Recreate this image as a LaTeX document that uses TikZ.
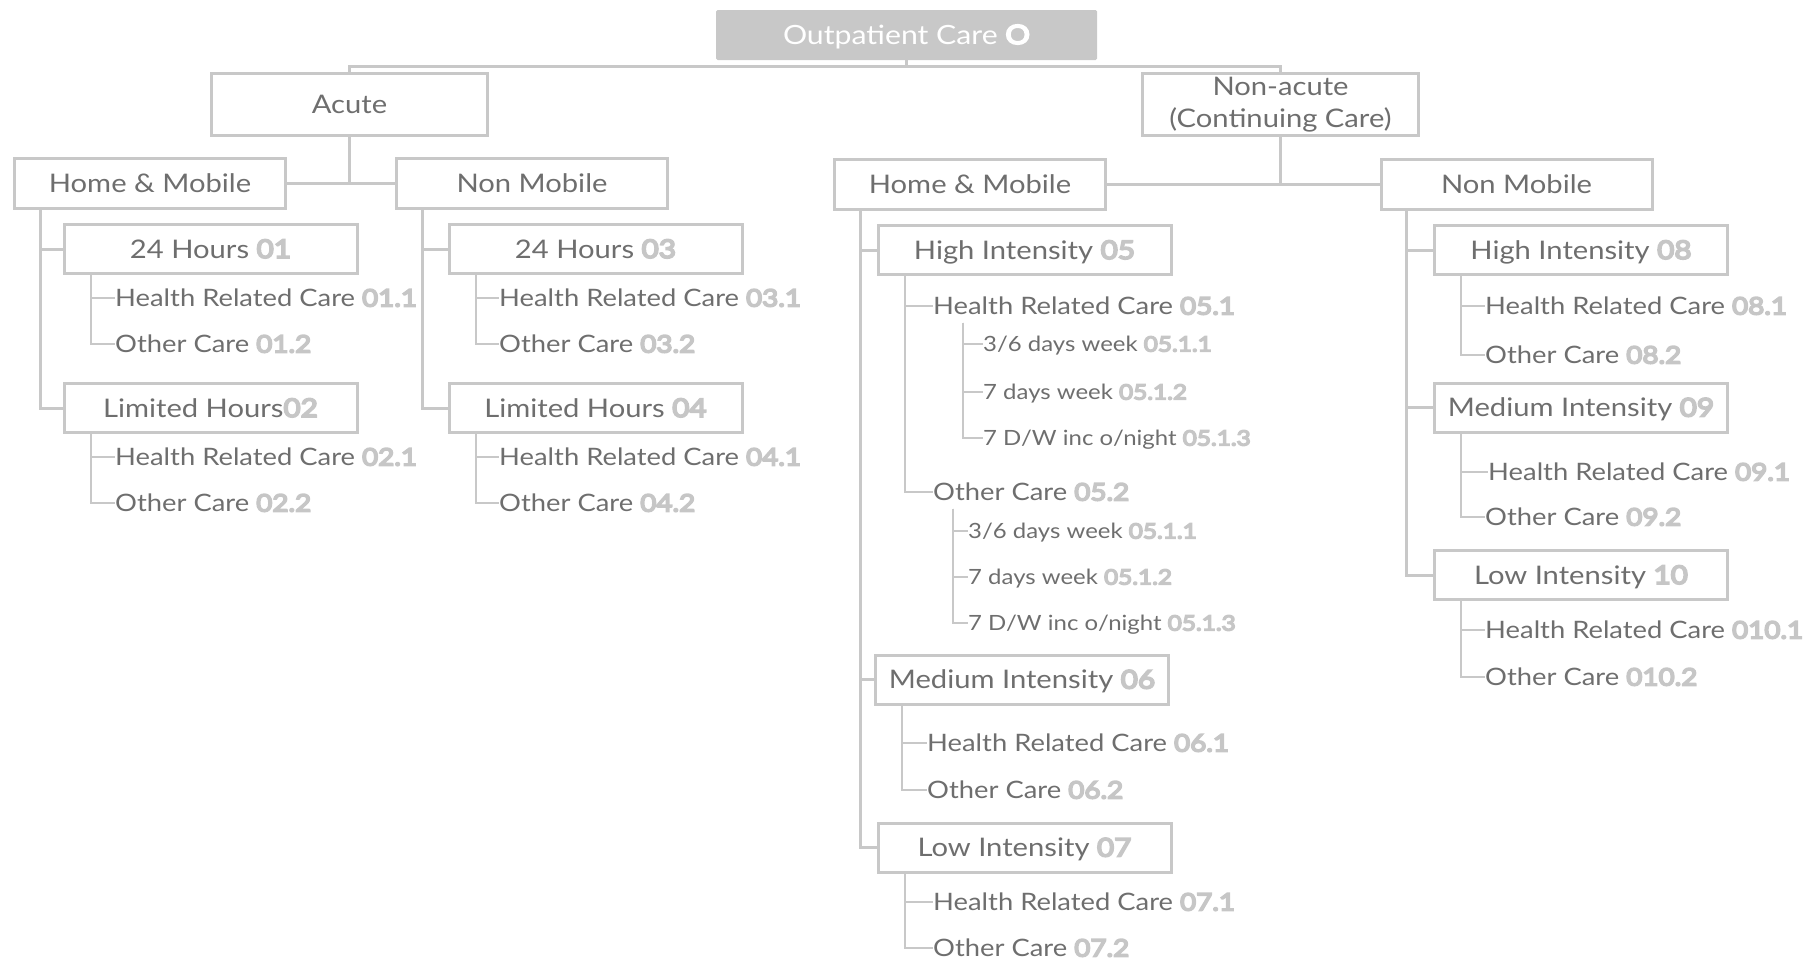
\documentclass[tikz,border=0pt]{standalone}
\usepackage{fontspec}
\setmainfont{Lato}[FakeStretch=1.14]
\newfontfamily\codefont{Lato}[FakeStretch=1.16,FakeBold=7]
\usetikzlibrary{positioning}

\definecolor{linegray}{HTML}{C8C8C8}
\definecolor{textgray}{HTML}{6E6E6E}
\definecolor{codegray}{HTML}{C6C6C6}
\newcommand{\code}[1]{{\codefont\color{codegray}#1}}

\begin{document}
\begin{tikzpicture}[x=1pt,y=-1pt,
  box/.style={draw=linegray,line width=3pt,minimum width=271pt,
    minimum height=50pt,inner sep=0pt,text=textgray,
    font=\fontsize{25.6}{32}\selectfont,text height=18pt,text depth=0pt},
  subbox/.style={box,minimum width=293pt,minimum height=49pt},
  topbox/.style={box,minimum width=276pt,minimum height=62pt},
  rootbox/.style={fill=linegray,rounded corners=1.5pt,minimum width=381pt,
    minimum height=50pt,inner sep=0pt,text=white,
    font=\fontsize{26.5}{30}\selectfont,text height=18pt,text depth=0pt},
  leaf/.style={anchor=west,inner sep=0pt,text=textgray,
    font=\fontsize{24}{28}\selectfont,text height=17pt,text depth=0pt},
  small/.style={leaf,font=\fontsize{21}{24}\selectfont,text height=15pt},
  link/.style={draw=linegray,line width=3pt},
  twig/.style={draw=linegray,line width=2pt}]
\useasboundingbox (0,0) rectangle (1813,961);

%% top levels
\node[rootbox] (oc) at (906.5,35) {Outpatient Care \code{\color{white}O}};
\node[topbox]  (ac) at (349.5,104.5) {Acute};
\node[topbox,align=center,text height={},text depth={}] (na) at (1280.5,104.5)
  {Non-acute\\(Continuing Care)};

\node[box] (hm1) at (150,183.5) {Home \& Mobile};
\node[box] (nm1) at (532,183.5) {Non Mobile};
\node[box] (hm2) at (970,184.5) {Home \& Mobile};
\node[box] (nm2) at (1516.5,184.5) {Non Mobile};

%% hours / intensity
\node[subbox] (h01) at (210.5,249) {24 Hours \code{01}};
\node[subbox] (h02) at (210.5,408) {Limited Hours\code{02}};
\node[subbox] (h03) at (595.5,249) {24 Hours \code{03}};
\node[subbox] (h04) at (595.5,408) {Limited Hours \code{04}};
\node[subbox] (i05) at (1024.5,250) {High Intensity \code{05}};
\node[subbox] (i06) at (1022,679.5) {Medium Intensity \code{06}};
\node[subbox] (i07) at (1024.5,847.5) {Low Intensity \code{07}};
\node[subbox] (i08) at (1581,250) {High Intensity \code{08}};
\node[subbox] (i09) at (1581,407.5) {Medium Intensity \code{09}};
\node[subbox] (i10) at (1581,575) {Low Intensity \code{10}};

%% care types
\node[leaf] (c011) at (115,298) {Health Related Care \code{01.1}};
\node[leaf] (c012) at (115,344) {Other Care \code{01.2}};
\node[leaf] (c021) at (115,457) {Health Related Care \code{02.1}};
\node[leaf] (c022) at (115,503) {Other Care \code{02.2}};
\node[leaf] (c031) at (499,298) {Health Related Care \code{03.1}};
\node[leaf] (c032) at (499,344) {Other Care \code{03.2}};
\node[leaf] (c041) at (499,457) {Health Related Care \code{04.1}};
\node[leaf] (c042) at (499,503) {Other Care \code{04.2}};

\node[leaf]  (c051)  at (933,306) {Health Related Care \code{05.1}};
\node[small] (c0511) at (983,344) {3/6 days week \code{05.1.1}};
\node[small] (c0512) at (983,392) {7 days week \code{05.1.2}};
\node[small] (c0513) at (983,438) {7 D/W inc o/night \code{05.1.3}};
\node[leaf]  (c052)  at (933,492) {Other Care \code{05.2}};
\node[small] (c0521) at (968,531) {3/6 days week \code{05.1.1}};
\node[small] (c0522) at (968,577) {7 days week \code{05.1.2}};
\node[small] (c0523) at (968,623) {7 D/W inc o/night \code{05.1.3}};
\node[leaf] (c061) at (927,743) {Health Related Care \code{06.1}};
\node[leaf] (c062) at (927,790) {Other Care \code{06.2}};
\node[leaf] (c071) at (933,902) {Health Related Care \code{07.1}};
\node[leaf] (c072) at (933,948) {Other Care \code{07.2}};

\node[leaf] (c081) at (1485,306) {Health Related Care \code{08.1}};
\node[leaf] (c082) at (1485,355) {Other Care \code{08.2}};
\node[leaf] (c091) at (1488,472) {Health Related Care \code{09.1}};
\node[leaf] (c092) at (1485,517) {Other Care \code{09.2}};
\node[leaf] (c101) at (1485,630) {Health Related Care \code{010.1}};
\node[leaf] (c102) at (1485,677) {Other Care \code{010.2}};

%% connectors
\draw[link] (oc.south) -- ++(0,6) -| (ac.north);
\draw[link] (oc.south) -- ++(0,6) -| (na.north);
\draw[link] (ac.south) |- (hm1.east);
\draw[link] (ac.south) |- (nm1.west);
\draw[link] (na.south) |- (hm2.east);
\draw[link] (na.south) |- (nm2.west);

\draw[link] ([xshift=27pt]hm1.south west) |- (h01.west);
\draw[link] ([xshift=27pt]hm1.south west) |- (h02.west);
\draw[link] ([xshift=27pt]nm1.south west) |- (h03.west);
\draw[link] ([xshift=27pt]nm1.south west) |- (h04.west);
\draw[link] ([xshift=27pt]hm2.south west) |- (i05.west);
\draw[link] ([xshift=27pt]hm2.south west) |- (i06.west);
\draw[link] ([xshift=27pt]hm2.south west) |- (i07.west);
\draw[link] ([xshift=27pt]nm2.south west) |- (i08.west);
\draw[link] ([xshift=27pt]nm2.south west) |- (i09.west);
\draw[link] ([xshift=27pt]nm2.south west) |- (i10.west);

\draw[twig] ([xshift=28pt]h01.south west) |- (c011.west);
\draw[twig] ([xshift=28pt]h01.south west) |- (c012.west);
\draw[twig] ([xshift=28pt]h02.south west) |- (c021.west);
\draw[twig] ([xshift=28pt]h02.south west) |- (c022.west);
\draw[twig] ([xshift=28pt]h03.south west) |- (c031.west);
\draw[twig] ([xshift=28pt]h03.south west) |- (c032.west);
\draw[twig] ([xshift=28pt]h04.south west) |- (c041.west);
\draw[twig] ([xshift=28pt]h04.south west) |- (c042.west);
\draw[twig] ([xshift=28pt]i05.south west) |- (c051.west);
\draw[twig] ([xshift=28pt]i05.south west) |- (c052.west);
\draw[twig] ([shift={(30,8)}]c051.south west) |- (c0511.west);
\draw[twig] ([shift={(30,8)}]c051.south west) |- (c0512.west);
\draw[twig] ([shift={(30,8)}]c051.south west) |- (c0513.west);
\draw[twig] ([shift={(20,8)}]c052.south west) |- (c0521.west);
\draw[twig] ([shift={(20,8)}]c052.south west) |- (c0522.west);
\draw[twig] ([shift={(20,8)}]c052.south west) |- (c0523.west);
\draw[twig] ([xshift=28pt]i06.south west) |- (c061.west);
\draw[twig] ([xshift=28pt]i06.south west) |- (c062.west);
\draw[twig] ([xshift=28pt]i07.south west) |- (c071.west);
\draw[twig] ([xshift=28pt]i07.south west) |- (c072.west);
\draw[twig] ([xshift=28pt]i08.south west) |- (c081.west);
\draw[twig] ([xshift=28pt]i08.south west) |- (c082.west);
\draw[twig] ([xshift=28pt]i09.south west) |- (c091.west);
\draw[twig] ([xshift=28pt]i09.south west) |- (c092.west);
\draw[twig] ([xshift=28pt]i10.south west) |- (c101.west);
\draw[twig] ([xshift=28pt]i10.south west) |- (c102.west);
\end{tikzpicture}
\end{document}
